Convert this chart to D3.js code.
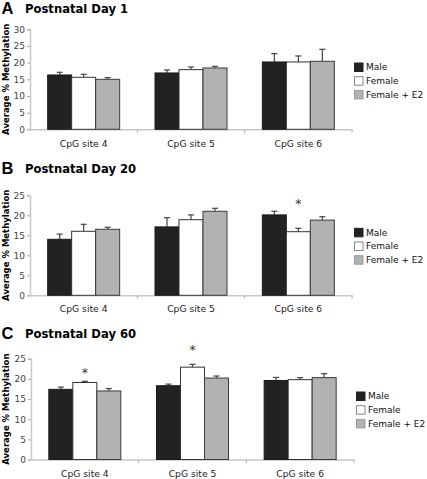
<!DOCTYPE html>
<html><head><meta charset="utf-8">
<script src="https://cdn.jsdelivr.net/npm/d3@7"></script>
<style>body{margin:0;background:#fff}svg{display:block}</style>
</head><body>
<svg id="c" width="427" height="479"></svg>
<script>
const categories = ["CpG site 4", "CpG site 5", "CpG site 6"];
const series = ["Male", "Female", "Female + E2"];
const panelLetters = ["A", "B", "C"];
const panelTitles = ["Postnatal Day 1", "Postnatal Day 20", "Postnatal Day 60"];
const yMaxes = [30, 25, 25];
const yTicks = [[0,5,10,15,20,25,30],[0,5,10,15,20,25],[0,5,10,15,20,25]];
// means per panel: [Male], [Female], [Female + E2] across categories
const day1Male = [16.3, 16.9, 20.2];
const day1Female = [15.6, 17.9, 20.2];
const day1E2 = [15.0, 18.4, 20.4];
const day1MaleErr = [0.8, 0.9, 2.5];
const day1FemaleErr = [0.9, 0.8, 1.8];
const day1E2Err = [0.5, 0.5, 3.6];
const day20Male = [14.0, 17.1, 20.1];
const day20Female = [16.0, 18.9, 15.9];
const day20E2 = [16.5, 21.0, 18.8];
const day20MaleErr = [1.3, 2.3, 0.9];
const day20FemaleErr = [1.75, 1.2, 0.85];
const day20E2Err = [0.5, 0.75, 0.85];
const day60Male = [17.4, 18.3, 19.6];
const day60Female = [19.1, 22.9, 19.8];
const day60E2 = [17.0, 20.2, 20.3];
const day60MaleErr = [0.55, 0.4, 0.75];
const day60FemaleErr = [0.3, 0.7, 0.5];
const day60E2Err = [0.6, 0.5, 1.0];
// significance stars: [category index, series index, y value of star centre]
const day1Stars = [];
const day20Stars = [[2, 1, 23.4]];
const day60Stars = [[0, 1, 22.0], [1, 1, 27.6]];

const panels = [
  {means:[day1Male, day1Female, day1E2], errs:[day1MaleErr, day1FemaleErr, day1E2Err], stars:day1Stars,
   y0:129.3, yTop:29.3, x0:30, x1:352, letterY:14, titleY:13, catY:146.5, legY:67},
  {means:[day20Male, day20Female, day20E2], errs:[day20MaleErr, day20FemaleErr, day20E2Err], stars:day20Stars,
   y0:295.3, yTop:195.3, x0:30, x1:352, letterY:174, titleY:173.3, catY:312, legY:232.3},
  {means:[day60Male, day60Female, day60E2], errs:[day60MaleErr, day60FemaleErr, day60E2Err], stars:day60Stars,
   y0:459.5, yTop:358.7, x0:31, x1:354, letterY:339, titleY:338.3, catY:476.5, legY:396}
];

const fills = ["#222222", "#ffffff", "#b2b2b2"];
const strokes = ["#1a1a1a", "#333333", "#3a3a3a"];
const legStrokes = ["#222222", "#888888", "#999999"];
const svg = d3.select("#c");
const font = "'DejaVu Sans', Verdana, sans-serif";

panels.forEach((p, pi) => {
  const g = svg.append("g");
  const x = d3.scaleBand().domain(categories).range([p.x0, p.x1]).paddingInner(0).paddingOuter(0);
  const groupW = 72;
  const xs = d3.scaleBand().domain(series).range([0, groupW]).padding(0);
  const y = d3.scaleLinear().domain([0, yMaxes[pi]]).range([p.y0, p.yTop]);

  // title
  g.append("text").attr("x", 1.5).attr("y", p.letterY).text(panelLetters[pi])
    .attr("font-family", "'Liberation Sans', Arial, sans-serif").attr("font-weight", "bold").attr("font-size", 16.5).attr("fill", "#000");
  g.append("text").attr("x", 25).attr("y", p.titleY).text(panelTitles[pi])
    .attr("font-family", font).attr("font-weight", "bold").attr("font-size", 11.6).attr("fill", "#000");

  // y label
  g.append("text").attr("transform", `translate(9,${(p.y0 + p.yTop)/2}) rotate(-90)`)
    .attr("text-anchor", "middle").text("Average % Methylation")
    .attr("font-family", font).attr("font-weight", "bold").attr("font-size", 8.5).attr("fill", "#000");

  // y axis
  const ya = g.append("g").attr("transform", `translate(${p.x0},0)`)
    .call(d3.axisLeft(y).tickValues(yTicks[pi]).tickSize(3).tickPadding(2).tickFormat(d3.format("d")));
  ya.select(".domain").attr("stroke", "#c8c8c8").attr("stroke-width", 1.5);
  ya.selectAll(".tick line").attr("stroke", "#b0b0b0");
  ya.selectAll(".tick text").attr("font-family", font).attr("font-size", 9).attr("fill", "#444");

  // x axis
  const xa = g.append("g").attr("transform", `translate(0,${p.y0})`)
    .call(d3.axisBottom(x).tickSize(0).tickPadding(0).tickFormat(""));
  xa.select(".domain").attr("stroke", "#c8c8c8").attr("stroke-width", 1.5);
  xa.selectAll(".tick").remove();
  const bounds = categories.map((c) => x(c) + x.bandwidth());
  g.selectAll("line.xt").data(bounds).enter().append("line")
    .attr("x1", d => d).attr("x2", d => d).attr("y1", p.y0).attr("y2", p.y0 + 3.5)
    .attr("stroke", "#b0b0b0").attr("stroke-width", 1);
  g.selectAll("text.cat").data(categories).enter().append("text")
    .attr("x", d => x(d) + x.bandwidth()/2).attr("y", p.catY).attr("text-anchor", "middle")
    .text(d => d).attr("font-family", font).attr("font-size", 9.2).attr("fill", "#222");

  const off = (x.bandwidth() - groupW) / 2;
  // bars
  series.forEach((s, si) => {
    const vals = p.means[si], errs = p.errs[si];
    categories.forEach((c, ci) => {
      const bx = x(c) + off + xs(s);
      const bw = xs.bandwidth();
      const cx = bx + bw/2;
      g.append("line").attr("x1", cx).attr("x2", cx).attr("y1", y(vals[ci])).attr("y2", y(vals[ci] + errs[ci]))
        .attr("stroke", "#444").attr("stroke-width", 1.2);
      g.append("line").attr("x1", cx - 3).attr("x2", cx + 3).attr("y1", y(vals[ci] + errs[ci])).attr("y2", y(vals[ci] + errs[ci]))
        .attr("stroke", "#444").attr("stroke-width", 1.2);
      g.append("rect").attr("x", bx).attr("y", y(vals[ci])).attr("width", bw).attr("height", p.y0 - y(vals[ci]))
        .attr("fill", fills[si]).attr("stroke", strokes[si]).attr("stroke-width", 1);
    });
  });

  // stars
  p.stars.forEach(st => {
    const c = categories[st[0]], s = series[st[1]];
    const cx = x(c) + off + xs(s) + xs.bandwidth()/2;
    g.append("text").attr("x", cx).attr("y", y(st[2]) + 6).attr("text-anchor", "middle").text("*")
      .attr("font-family", font).attr("font-size", 12.5).attr("fill", "#333");
  });

  // legend
  series.forEach((s, si) => {
    const ly = p.legY + si * 13.7;
    g.append("rect").attr("x", p.x1 + 2.5).attr("y", ly - 4).attr("width", 8.5).attr("height", 8.5)
      .attr("fill", fills[si]).attr("stroke", legStrokes[si]).attr("stroke-width", 1);
    g.append("text").attr("x", p.x1 + 14).attr("y", ly + 3.3).text(s)
      .attr("font-family", font).attr("font-size", 9).attr("fill", "#111");
  });
});
</script>
</body></html>
